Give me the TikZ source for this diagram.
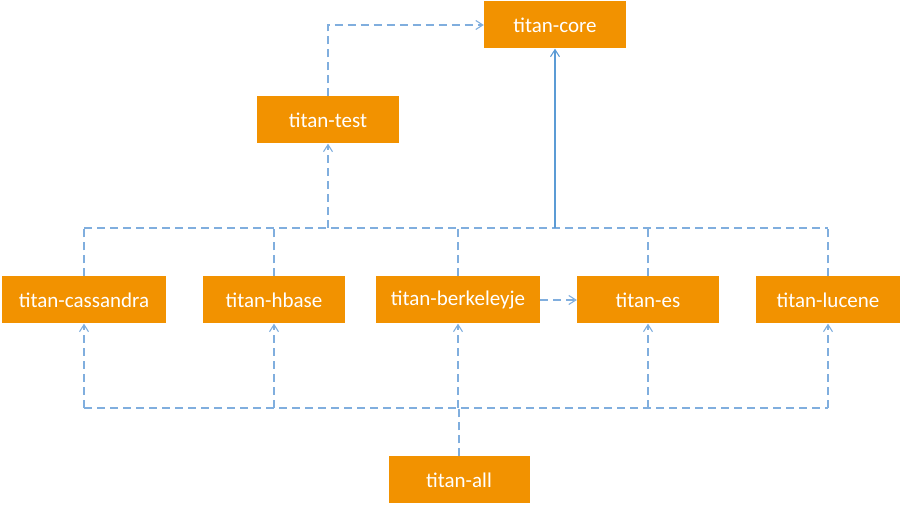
\documentclass[tikz,border=0pt]{standalone}
\usepackage{fontspec}
\setmainfont{Carlito}
\usetikzlibrary{arrows.meta,positioning}

\definecolor{boxorange}{RGB}{242,146,0}
\definecolor{linkblue}{RGB}{91,155,213}
\definecolor{deplight}{RGB}{128,174,222}

\tikzset{
  module/.style={rectangle,fill=boxorange,text=white,minimum height=47pt,
    inner sep=0pt,font=\fontsize{21}{25}\selectfont},
  uses/.style={draw=linkblue,line width=1.1pt},
  dep/.style={draw=deplight,line width=1.1pt,dash pattern=on 8pt off 5pt},
}

\begin{document}
\begin{tikzpicture}[x=1pt,y=1pt,>={Straight Barb[length=7pt,width=9pt]}]
\useasboundingbox (0,0) rectangle (901,505);

            \node[module,minimum width=142pt] (core) at (555,480) {titan-core};
            \node[module,minimum width=142pt] (test) at (328,385) {titan-test};

            \node[module,minimum width=164pt] (cass) at (84,205) {titan-cassandra};
            \node[module,minimum width=142pt] (hbase) at (274,205) {titan-hbase};
            \node[module,minimum width=164pt] (berk) at (458,205) {titan-berkeleyje};
            \node[module,minimum width=142pt] (es) at (648,205) {titan-es};
            \node[module,minimum width=144pt] (lucene) at (828,205) {titan-lucene};

            \node[module,minimum width=141pt] (all) at (459,25) {titan-all};

            \coordinate (topbus) at (0,277);
            \coordinate (botbus) at (0,97);

            % upward to test and core
            \foreach \m in {cass,hbase,berk,es,lucene}
              \draw[dep] (\m.north) -- (\m.north |- topbus);
            \draw[dep] (cass.north |- topbus) -- (lucene.north |- topbus);
            \draw[dep,->] (test.south |- topbus) -- (test.south);
            \draw[uses,->] (core.south |- topbus) -- (core.south);
            \draw[dep,->] (test.north) |- (core.west);

            \draw[dep,->] (berk.east) -- (es.west);

            % titan-all pulls in every backend
            \draw[dep] (all.north) -- (all.north |- botbus);
            \draw[dep] (cass.south |- botbus) -- (lucene.south |- botbus);
            \foreach \m in {cass,hbase,berk,es,lucene}
              \draw[dep,->] (\m.south |- botbus) -- (\m.south);

        \end{tikzpicture}
\end{document}
